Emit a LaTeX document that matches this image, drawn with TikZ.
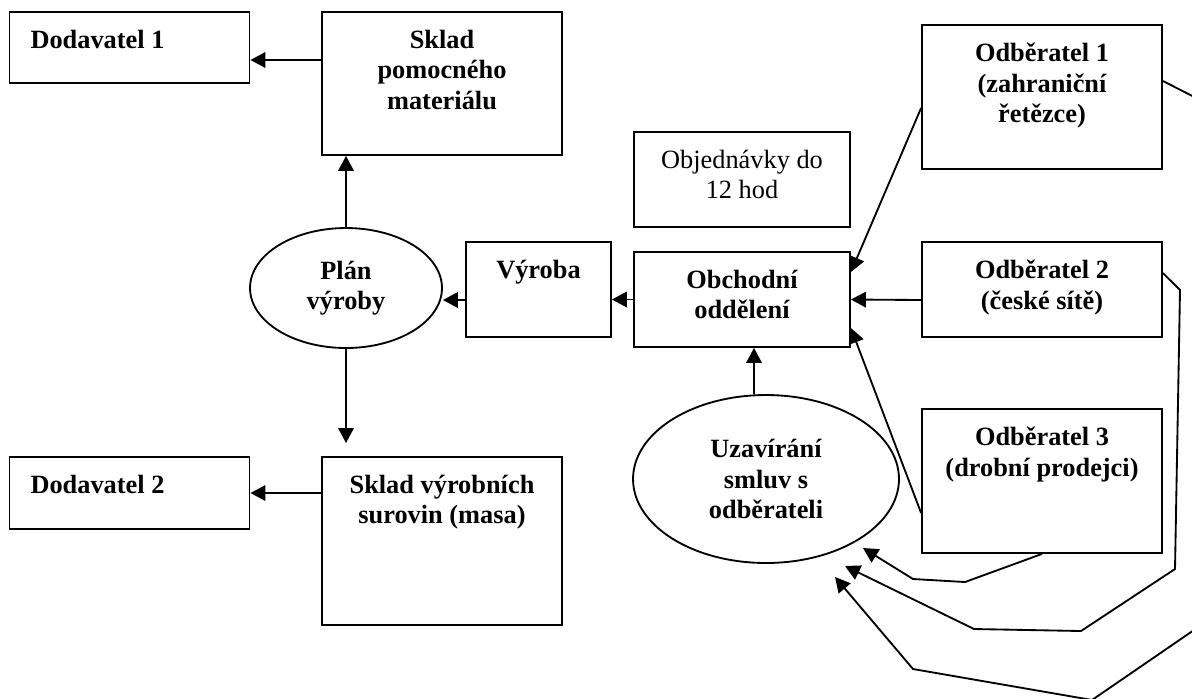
\documentclass[tikz,border=0pt]{standalone}
\usepackage{fontspec}
\setmainfont{Liberation Serif}
\usetikzlibrary{arrows.meta,shapes.geometric}

\newcommand{\txtfont}{\fontsize{15}{17.4}\selectfont}

\tikzset{
  box/.style={draw, rectangle, inner sep=0pt, minimum width=4.8cm},
  oval/.style={draw, ellipse, inner sep=0pt, align=center, font=\txtfont\bfseries},
  toptxt/.style={anchor=north, yshift=-0.36cm, inner sep=0pt, align=center, font=\txtfont\bfseries},
  lefttxt/.style={toptxt, anchor=north west, xshift=0.42cm}
}

\begin{document}
\begin{tikzpicture}[x=0.02cm, y=-0.02cm, line width=1.05pt,
  >={Triangle[length=0.3cm,width=0.31cm]}]
	\useasboundingbox (0,0) rectangle (1192,698);

	% left column
	\node[box, minimum height=1.42cm, label={[lefttxt]north west:Dodavatel 1}] (dod1) at (129.5,47.5) {};
	\node[box, minimum height=2.86cm, label={[toptxt]north:Sklad\\pomocného\\materiálu}] (sklpom) at (442,83.5) {};
	\node[oval, minimum width=3.84cm, minimum height=2.4cm] (plan) at (346,288) {Plán\\výroby};
	\node[box, minimum height=1.44cm, label={[lefttxt]north west:Dodavatel 2}] (dod2) at (129.5,493) {};
	\node[box, minimum height=3.36cm, label={[toptxt]north:Sklad výrobních\\surovin (masa)}] (sklvyr) at (442,541) {};
	\coordinate (in2) at (346,443);

	% middle
	\node[box, minimum width=2.9cm, minimum height=1.9cm, label={[toptxt]north:Výroba}] (vyroba) at (538.5,289.5) {};
	\node[box, minimum width=4.32cm, minimum height=1.9cm, label={[toptxt, font=\txtfont]north:Objednávky do\\12 hod}] (obj) at (742,179.5) {};
	\node[box, minimum width=4.32cm, minimum height=1.9cm, label={[toptxt]north:Obchodní\\oddělení}] (obch) at (742,299.5) {};
	\node[oval, minimum width=5.32cm, minimum height=3.36cm] (uzav) at (766,479) {Uzavírání\\smluv s\\odběrateli};

	% customers
	\node[box, minimum height=2.88cm, label={[toptxt]north:Odběratel 1\\(zahraniční\\řetězce)}] (odb1) at (1042,97) {};
	\node[box, minimum height=1.9cm, label={[toptxt]north:Odběratel 2\\(české sítě)}] (odb2) at (1042,289.5) {};
	\node[box, minimum height=2.88cm, label={[toptxt]north:Odběratel 3\\(drobní prodejci)}] (odb3) at (1042,481) {};
	\coordinate (tip1) at (863,548);
	\coordinate (tip2) at (845,566);
	\coordinate (tip3) at (835,577);

	\draw[->] ([yshift=0.47cm]sklpom.west) -- ([yshift=-0.25cm]dod1.east);
	\draw[->] (plan) -- (plan |- sklpom.south);
	\draw[->] ([yshift=-0.21cm]vyroba.west) -- ([yshift=-0.24cm]plan.east);
	\draw[->] (obch.west) -- (vyroba.east |- obch.west);
	\draw[->] (plan) -- (in2);
	\draw[->] (dod2.east -| sklvyr.west) -- (dod2.east);

	\draw[->] ([yshift=-0.22cm]odb1.west) -- ([yshift=0.55cm]obch.east);
	\draw[->] ([yshift=-0.21cm]odb2.west) -- (obch.east);
	\draw[->] ([yshift=-0.64cm]odb3.west) -- ([yshift=-0.57cm]obch.east);
	\draw[->] ([xshift=-0.24cm]uzav.north) -- ([xshift=0.24cm]obch.south);

	% back to contracts
	\draw[->] (odb3.south) -- (965,582) -- (913,579) -- (tip1);
	\draw[->] ([yshift=0.33cm]odb2.east) -- (1180,290) -- (1175,569) -- (1081,631) -- (974,629) -- (tip2);
	\draw[->] ([yshift=0.32cm]odb1.east) -- (1214,107) -- (1210,619) -- (1092,700) -- (913,669) -- (tip3);
\end{tikzpicture}
\end{document}
